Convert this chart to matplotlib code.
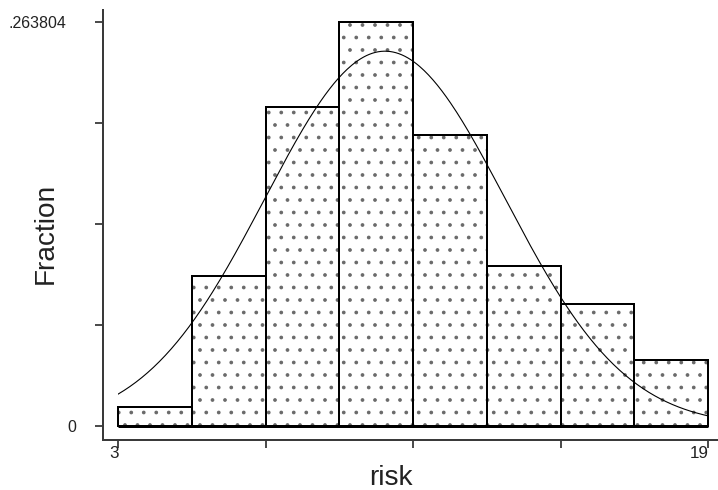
import numpy as np
import matplotlib.pyplot as plt
from matplotlib.transforms import ScaledTranslation

# histogram of risk, 8 bins of width 2 from 3 to 19
bin_edges = [3, 5, 7, 9, 11, 13, 15, 17, 19]
counts = [2, 16, 34, 43, 31, 17, 13, 7]
n_obs = 163
fit_mean = 10.24    # normal overlay
fit_sd = 3.26
x_ticks = [3, 7, 11, 15, 19]
x_ticklabels = ['3', '', '', '', '19']
y_ticklabels = ['0', '', '', '', '.263804']

DPI = 75                 # hatch tile = 1 inch, so this sets the dot spacing
W, H = 718, 490
pt = 72.0 / DPI          # pixels -> points

plt.rcParams['font.family'] = ['Liberation Sans', 'DejaVu Sans']
plt.rcParams['hatch.linewidth'] = 1.2 * pt

fig = plt.figure(figsize=(W / DPI, H / DPI), dpi=DPI)
ax = fig.add_axes([118 / W, 64 / H, 590 / W, 404 / H])

frac = np.array(counts) / n_obs
left = np.array(bin_edges[:-1])
width = np.diff(bin_edges)
# dotted fill (grey dots), then black outlines on top
ax.bar(left, frac, width=width, align='edge', facecolor='white',
       edgecolor='#6a6a6a', linewidth=0, hatch='.', clip_on=False)
ax.bar(left, frac, width=width, align='edge', fill=False,
       edgecolor='black', linewidth=2 * pt, clip_on=False)
ax.plot([bin_edges[0], bin_edges[-1]], [0, 0], color='black', lw=3 * pt,
        clip_on=False, solid_capstyle='butt')

# normal density scaled to the bin width
xs = np.linspace(bin_edges[0], bin_edges[-1], 400)
dens = width[0] * np.exp(-(xs - fit_mean)**2 / (2 * fit_sd**2)) / (fit_sd * np.sqrt(2 * np.pi))
ax.plot(xs, dens, color='black', lw=1.1 * pt)

ymax = frac.max()
ax.set_xlim(bin_edges[0], bin_edges[-1])
ax.set_ylim(0, ymax)
xpp = (bin_edges[-1] - bin_edges[0]) / 590.0   # data units per pixel
ypp = ymax / 404.0

ax.spines['top'].set_visible(False)
ax.spines['right'].set_visible(False)
ax.spines['left'].set_position(('outward', 15 * pt))
ax.spines['bottom'].set_position(('outward', 14 * pt))
ax.spines['left'].set_bounds(-14 * ypp, 416 * ypp)
ax.spines['bottom'].set_bounds(bin_edges[0] - 15 * xpp, bin_edges[-1] + 10 * xpp)
for s in ('left', 'bottom'):
    ax.spines[s].set_linewidth(2 * pt)
    ax.spines[s].set_color('#3a3a3a')

ax.set_xticks(x_ticks)
ax.set_xticklabels(x_ticklabels, fontsize=17 * pt, ha='right')
ax.set_yticks(np.linspace(0, ymax, 5))
ax.set_yticklabels(y_ticklabels, fontsize=16 * pt)
ax.tick_params(axis='both', direction='out', length=8 * pt, width=1.6 * pt,
               colors='#222222')
ax.tick_params(axis='y', pad=19 * pt)
ax.tick_params(axis='x', pad=-2 * pt)

for lab in ax.get_xticklabels():
    lab.set_transform(lab.get_transform() + ScaledTranslation(1 / DPI, 0, fig.dpi_scale_trans))
top_lab = ax.get_yticklabels()[-1]
top_lab.set_transform(top_lab.get_transform() + ScaledTranslation(-10 / DPI, 0, fig.dpi_scale_trans))

fig.text(391 / W, 5 / H, 'risk', fontsize=28 * pt, color='#222222',
         ha='center', va='baseline')
fig.text(46 / W, 1 - 233 / H, 'Fraction', fontsize=28 * pt, color='#222222',
         rotation=90, ha='center', va='center')

fig.savefig('out.png', dpi=DPI)
